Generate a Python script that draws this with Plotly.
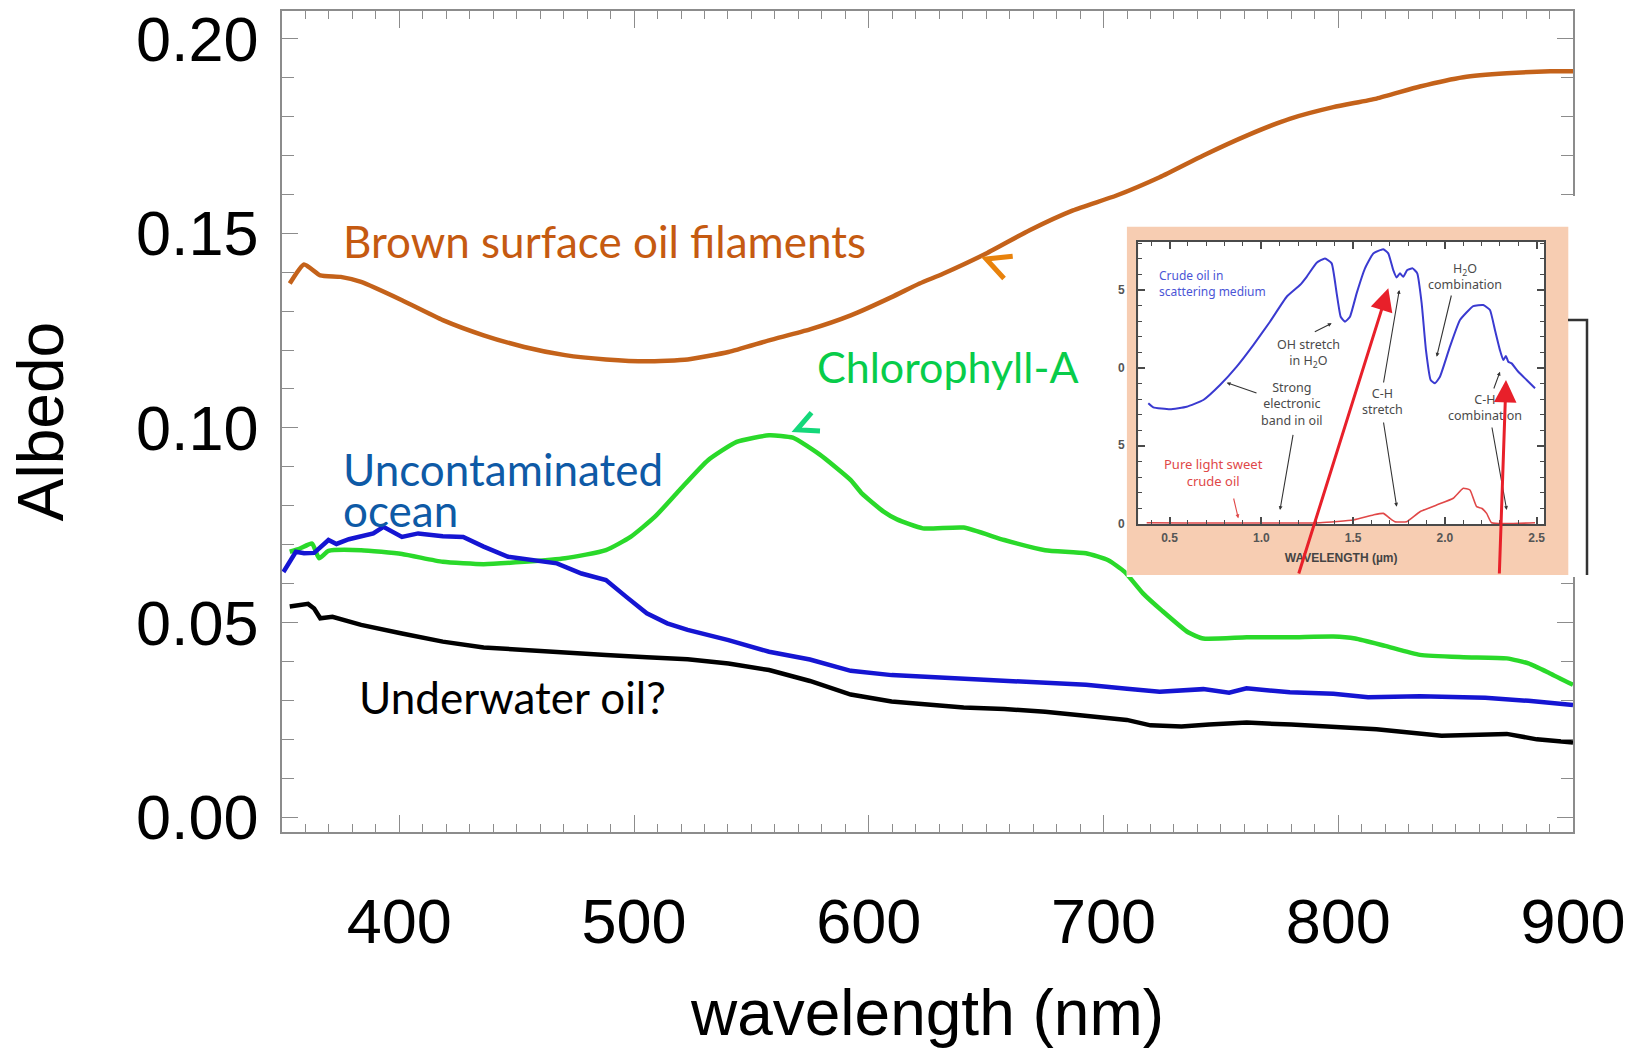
import plotly.graph_objects as go

# ------------------------------------------------------------------ data
brown_wl = [353.3, 359.4, 366.3, 375, 383.7, 401.1, 418.5, 435.9, 453.2, 470.6, 488, 505.4,
            522.8, 540.2, 557.5, 574.9, 592.3, 609.7, 621.6, 631.6, 650, 668.5, 687, 705.5,
            723.9, 742.5, 761, 779.3, 797.9, 816.3, 834.8, 853.3, 871.8, 890.3, 900]
brown_alb = [0.1371, 0.1420, 0.1392, 0.1388, 0.1375, 0.1328, 0.1277, 0.1238, 0.1208, 0.1187,
             0.1176, 0.1171, 0.1176, 0.1195, 0.1225, 0.1253, 0.1289, 0.1336, 0.1371, 0.1396,
             0.1448, 0.1508, 0.1559, 0.1597, 0.1644, 0.1700, 0.1751, 0.1794, 0.1824, 0.1846,
             0.1877, 0.1901, 0.1911, 0.1916, 0.1916]

ocean_wl = [350.6, 355.9, 359.4, 363.7, 369.8, 373.2, 378.5, 383.7, 388.9, 393.2, 401.1, 408,
            418.5, 427.2, 435.9, 446.3, 456.7, 467.1, 477.6, 488, 496.7, 505.4, 514.1, 522.8,
            540.2, 557.5, 574.9, 592.3, 609.7, 623, 640, 657.7, 675, 692.5, 710, 723.9, 742.5,
            753.5, 760.9, 779.4, 797.9, 812.7, 834.8, 862.6, 881, 900]
ocean_alb = [0.0630, 0.0682, 0.0678, 0.0679, 0.0712, 0.0702, 0.0714, 0.0722, 0.0729, 0.0746,
             0.0720, 0.0729, 0.0722, 0.0720, 0.0695, 0.0669, 0.0660, 0.0652, 0.0626, 0.0609,
             0.0566, 0.0524, 0.0498, 0.0481, 0.0455, 0.0425, 0.0405, 0.0376, 0.0365, 0.0361,
             0.0356, 0.0352, 0.0346, 0.0340, 0.0330, 0.0322, 0.0329, 0.0320, 0.0331, 0.0321,
             0.0317, 0.0308, 0.0311, 0.0307, 0.0299, 0.0288]

chl_wl = [353.3, 357.6, 362.8, 365.8, 369.8, 383.7, 401.1, 418.5, 435.9, 453.2, 470.6, 488,
          498.5, 508.9, 519.3, 531.5, 543.7, 557.5, 567.6, 579, 592.3, 597, 606.3, 612, 623,
          640.4, 657.7, 675.1, 692.5, 702, 709, 716.8, 725, 736, 742.5, 761, 779.4, 797.9,
          807.2, 820, 834.8, 853.3, 871.8, 881, 890, 900]
chl_alb = [0.0682, 0.0690, 0.0703, 0.0665, 0.0684, 0.0686, 0.0676, 0.0656, 0.0650, 0.0656,
           0.0665, 0.0686, 0.0720, 0.0772, 0.0840, 0.0917, 0.0964, 0.0981, 0.0975, 0.0932,
           0.0866, 0.0832, 0.0785, 0.0765, 0.0742, 0.0744, 0.0712, 0.0686, 0.0678, 0.0660,
           0.0630, 0.0575, 0.0530, 0.0475, 0.0459, 0.0462, 0.0462, 0.0464, 0.0459, 0.0440,
           0.0417, 0.0411, 0.0408, 0.0395, 0.0370, 0.0340]

uw_wl = [353.3, 361.1, 363.7, 366.3, 371.5, 383.7, 401.1, 418.5, 435.9, 453.2, 470.6, 488,
         505.4, 522.8, 540.2, 557.5, 574.9, 592.3, 609.7, 625, 640.4, 657.7, 675.1, 690, 709.9,
         720, 733.2, 745, 761, 780, 797.9, 816.3, 844, 871.8, 884.6, 900]
uw_alb = [0.0541, 0.0548, 0.0536, 0.0511, 0.0515, 0.0494, 0.0472, 0.0451, 0.0436, 0.0429,
          0.0423, 0.0417, 0.0411, 0.0406, 0.0395, 0.0378, 0.0350, 0.0315, 0.0297, 0.0290,
          0.0282, 0.0278, 0.0271, 0.0262, 0.0250, 0.0236, 0.0233, 0.0238, 0.0243, 0.0238,
          0.0233, 0.0226, 0.0209, 0.0214, 0.0200, 0.0192]

# inset: reflectance spectra (micrometres)
inset_blue_um = [0.3845, 0.4117, 0.5027, 0.5936, 0.684, 0.775, 0.866, 0.9564, 1.0473, 1.1383,
                 1.2107, 1.2472, 1.3017, 1.3469, 1.3834, 1.4106, 1.4324, 1.4558, 1.4831, 1.5194,
                 1.5648, 1.61, 1.6644, 1.6917, 1.7189, 1.7374, 1.7554, 1.7734, 1.7952, 1.8245,
                 1.8496, 1.8736, 1.897, 1.9226, 1.946, 1.9732, 2.0277, 2.0822, 2.1546, 2.2091,
                 2.2456, 2.2728, 2.3, 2.318, 2.3327, 2.3453, 2.3638, 2.4, 2.4455, 2.4911]
inset_blue_r = [0.0774, 0.0748, 0.0735, 0.0752, 0.0795, 0.0891, 0.1009, 0.1147, 0.1297, 0.1457,
                0.1532, 0.1585, 0.1675, 0.1703, 0.1671, 0.1479, 0.1329, 0.1297, 0.1329, 0.1479,
                0.1639, 0.1735, 0.1761, 0.1735, 0.1628, 0.1581, 0.1607, 0.1585, 0.1628, 0.1639,
                0.1607, 0.1415, 0.1115, 0.0923, 0.0902, 0.0944, 0.1137, 0.1308, 0.1397, 0.1404,
                0.1372, 0.1244, 0.1115, 0.1051, 0.1077, 0.1040, 0.1030, 0.0976, 0.0923, 0.0870]
inset_red_um = [0.3757, 1.3197, 1.501, 1.61, 1.6644, 1.7009, 1.7281, 1.7918, 1.8643, 1.9552,
                2.0457, 2.1002, 2.1366, 2.1731, 2.2004, 2.2276, 2.2548, 2.4911]
inset_red_r = [0.0008, 0.0008, 0.0026, 0.0058, 0.0068, 0.0036, 0.0015, 0.0015, 0.0079, 0.0122,
               0.0165, 0.0229, 0.0218, 0.0111, 0.0101, 0.0068, 0.0008, 0.0008]

x_ticks = [400, 500, 600, 700, 800, 900]
y_ticks = [0.00, 0.05, 0.10, 0.15, 0.20]
inset_x_ticks = [0.5, 1.0, 1.5, 2.0, 2.5]
inset_y_ticks = [0.0, 0.05, 0.10, 0.15]
inset_y_ticktext = ["0", "5", "0", "5"]   # only the last digit survives at the cropped edge

# ------------------------------------------------------------------ geometry
W, H = 1645, 1056
ML, MR, MT, MB = 282, 40, 11, 224
PW = W - ML - MR
PH = H - MT - MB


def pxx(px):
    return (px - ML) / PW


def pxy(py):
    return (H - MB - py) / PH


BROWN = "#c4621a"
BLUE = "#1515d2"
GREEN = "#2ad92a"
AXC = "#8c8c8c"
TICKFONT = dict(family="Liberation Sans, Arial, sans-serif", size=63, color="black")
LABFONT = "Lato, Carlito, Calibri, sans-serif"
INSET_TXT = "#4a4a4a"
INSET_FONT = "Noto Sans, Open Sans, sans-serif"

fig = go.Figure()

fig.add_trace(go.Scatter(x=brown_wl, y=brown_alb, mode="lines",
                         line=dict(color=BROWN, width=4.5, shape="spline", smoothing=0.5),
                         name="Brown surface oil filaments"))
fig.add_trace(go.Scatter(x=chl_wl, y=chl_alb, mode="lines",
                         line=dict(color=GREEN, width=4.5, shape="spline", smoothing=0.5),
                         name="Chlorophyll-A"))
fig.add_trace(go.Scatter(x=ocean_wl, y=ocean_alb, mode="lines",
                         line=dict(color=BLUE, width=4.5),
                         name="Uncontaminated ocean"))
fig.add_trace(go.Scatter(x=uw_wl, y=uw_alb, mode="lines",
                         line=dict(color="black", width=4.5),
                         name="Underwater oil?"))

# inset spectra
fig.add_trace(go.Scatter(x=inset_blue_um, y=inset_blue_r, mode="lines", xaxis="x3", yaxis="y3",
                         line=dict(color="#3a3ad0", width=2, shape="spline", smoothing=0.4),
                         name="Crude oil in scattering medium"))
fig.add_trace(go.Scatter(x=inset_red_um, y=inset_red_r, mode="lines", xaxis="x3", yaxis="y3",
                         line=dict(color="#e04848", width=1.6, shape="spline", smoothing=0.4),
                         name="Pure light sweet crude oil"))

main_ax = dict(showline=True, linecolor=AXC, linewidth=1.5, mirror="ticks", ticks="inside",
               tickcolor=AXC, tickwidth=1.2, showgrid=False, zeroline=False, tickfont=TICKFONT)

fig.update_layout(
    width=W, height=H, margin=dict(l=ML, r=MR, t=MT, b=MB, autoexpand=False),
    paper_bgcolor="white", plot_bgcolor="white", showlegend=False,
    xaxis=dict(main_ax, domain=[0, pxx(1573)], range=[350, 900], tickvals=x_ticks, ticklen=17,
               minor=dict(dtick=10, ticklen=8, ticks="inside", tickcolor=AXC, tickwidth=1),
               ticklabelstandoff=34,
               title=dict(text="wavelength (nm)", standoff=35,
                          font=dict(family="Liberation Sans, Arial, sans-serif", size=64, color="black"))),
    yaxis=dict(main_ax, domain=[0, 1], range=[-0.0038, 0.2071], tickvals=y_ticks, tickformat=".2f",
               ticklen=16, ticklabelstandoff=9,
               minor=dict(dtick=0.01, ticklen=12, ticks="inside", tickcolor=AXC, tickwidth=1),
               title=dict(text="Albedo", standoff=52,
                          font=dict(family="Liberation Sans, Arial, sans-serif", size=64, color="black"))),
    # cover layer for the pasted inset (pixel units)
    xaxis2=dict(domain=[pxx(1126.7), pxx(1600)], range=[1126.7, 1600], visible=False,
                anchor="y2", fixedrange=True),
    yaxis2=dict(domain=[pxy(577), pxy(196)], range=[577, 196], visible=False,
                anchor="x2", fixedrange=True),
    # inset axes
    xaxis3=dict(domain=[pxx(1138.3), pxx(1544)], range=[0.33, 2.54], anchor="y3",
                showline=True, linecolor="#4a4a4a", linewidth=2, mirror="ticks", ticks="inside",
                ticklen=7, tickcolor="#4a4a4a", tickwidth=1.5, tickvals=inset_x_ticks,
                tickformat=".1f", showgrid=False, zeroline=False, ticklabelstandoff=2,
                minor=dict(dtick=0.1, ticklen=4, ticks="inside", tickcolor="#4a4a4a", tickwidth=1.2),
                tickfont=dict(family="Liberation Sans, Arial", size=12, color="#555555", weight="bold"),
                title=dict(text="WAVELENGTH (µm)", standoff=9,
                           font=dict(family="Liberation Sans, Arial", size=12, color="#444444",
                                     weight="bold"))),
    yaxis3=dict(domain=[pxy(524), pxy(241.7)], range=[0, 0.181], anchor="x3",
                showline=True, linecolor="#4a4a4a", linewidth=2, mirror="ticks", ticks="inside",
                ticklen=7, tickcolor="#4a4a4a", tickwidth=1.5, tickvals=inset_y_ticks,
                showticklabels=False, showgrid=False, zeroline=False,
                minor=dict(dtick=0.01, ticklen=4, ticks="inside", tickcolor="#4a4a4a", tickwidth=1.2)),
)

shapes = [
    # white cut-out and peach background of the pasted inset
    dict(type="rect", xref="x2", yref="y2", x0=1126.7, x1=1600, y0=196, y1=577,
         fillcolor="white", line=dict(width=0), layer="below"),
    dict(type="rect", xref="x2", yref="y2", x0=1126.7, x1=1568.3, y0=226.7, y1=575,
         fillcolor="#f7cdb2", line=dict(width=0), layer="below"),
    dict(type="rect", xref="x2", yref="y2", x0=1138.3, x1=1544, y0=241.7, y1=524,
         fillcolor="#fcebe0", line=dict(width=0), layer="below"),
    # bracket at right of the inset
    dict(type="path", xref="paper", yref="paper",
         path=f"M {pxx(1568)},{pxy(320)} L {pxx(1587)},{pxy(320)} L {pxx(1587)},{pxy(575)}",
         line=dict(color="#333333", width=2.5), layer="above"),
    # little arrowheads pointing at curves
    dict(type="path", xref="x", yref="y",
         path="M 661.3,0.1441 L 650.0,0.1434 L 657.6,0.1384",
         line=dict(color="#e8820c", width=5), layer="above"),
    dict(type="path", xref="x", yref="y",
         path="M 575.6,0.1039 L 569.3,0.0995 L 579.2,0.0992",
         line=dict(color="#14d87a", width=5), layer="above"),
]
fig.update_layout(shapes=shapes)

ann = []
# main labels
ann.append(dict(x=375.3, y=0.1480, xref="x", yref="y", text="Brown surface oil filaments",
                showarrow=False, xanchor="left", yanchor="middle",
                font=dict(family=LABFONT, size=44, color="#c55a11")))
ann.append(dict(x=576.9, y=0.1158, xref="x", yref="y", text="Chlorophyll-A",
                showarrow=False, xanchor="left", yanchor="middle",
                font=dict(family=LABFONT, size=43, color="#08cc4a")))
ann.append(dict(x=375.0, y=0.0894, xref="x", yref="y", text="Uncontaminated",
                showarrow=False, xanchor="left", yanchor="middle",
                font=dict(family=LABFONT, size=44, color="#0e5aa6")))
ann.append(dict(x=375.0, y=0.0789, xref="x", yref="y", text="ocean",
                showarrow=False, xanchor="left", yanchor="middle",
                font=dict(family=LABFONT, size=44, color="#0e5aa6")))
ann.append(dict(x=382.0, y=0.0309, xref="x", yref="y", text="Underwater oil?",
                showarrow=False, xanchor="left", yanchor="middle",
                font=dict(family=LABFONT, size=44, color="black")))


def itext(cx, cy, txt, color=INSET_TXT, size=12.5, bg=None, anchor="center", fam=INSET_FONT,
          weight="normal"):
    d = dict(x=pxx(cx), y=pxy(cy), xref="paper", yref="paper", text=txt, showarrow=False,
             xanchor=anchor, yanchor="middle",
             align="left" if anchor == "left" else ("right" if anchor == "right" else "center"),
             font=dict(family=fam, size=size, color=color, weight=weight))
    if bg:
        d.update(bgcolor=bg, borderpad=3)
    return d


def iarrow(hx, hy, tx, ty, color="#333333", width=1.1, size=0.7, head=2):
    return dict(x=pxx(hx), y=pxy(hy), xref="paper", yref="paper", text="", showarrow=True,
                axref="pixel", ayref="pixel", ax=tx - hx, ay=ty - hy, arrowhead=head,
                arrowsize=size, arrowwidth=width, arrowcolor=color, standoff=0, startstandoff=0)


# cropped y-tick digits of the pasted inset, at its left edge
inset_ylab_py = [524, 445, 368, 290]
for lab, py in zip(inset_y_ticktext, inset_ylab_py):
    ann.append(itext(1127, py, lab, color="#555555", size=12, anchor="right",
                     fam="Liberation Sans, Arial", weight="bold"))

ann.append(itext(1155, 283, "Crude oil in<br>scattering medium", color="#4b55d6", size=12,
                 bg="white", anchor="left"))
ann.append(itext(1308.3, 353, "OH stretch<br>in H<sub>2</sub>O"))
ann.append(itext(1291.7, 404.3, "Strong<br>electronic<br>band in oil"))
ann.append(itext(1382.7, 401.7, "C-H<br>stretch"))
ann.append(itext(1465, 276.7, "H<sub>2</sub>O<br>combination"))
ann.append(itext(1485, 407.5, "C-H<br>combination"))
ann.append(itext(1213.3, 472.3, "Pure light sweet<br>crude oil", color="#e04848", size=13))

ann.append(iarrow(1331.7, 323.3, 1313.3, 332.5))
ann.append(iarrow(1226.7, 382.7, 1258, 393.5))
ann.append(iarrow(1280, 510, 1293.3, 433.3))
ann.append(iarrow(1238.3, 518.3, 1233.3, 497, color="#e04848"))
ann.append(iarrow(1399.3, 290, 1383.3, 384))
ann.append(iarrow(1396.7, 506.7, 1383.3, 421))
ann.append(iarrow(1436.7, 356.7, 1451.7, 294))
ann.append(iarrow(1500, 371.7, 1493.3, 390))
ann.append(iarrow(1506.7, 510, 1491.7, 426))

# big red arrows drawn over the inset
ann.append(iarrow(1388.3, 288.3, 1298.3, 575, color="#e8202a", width=3, size=1.5, head=2))
ann.append(iarrow(1506, 380, 1499.3, 575, color="#e8202a", width=3, size=1.5, head=2))

fig.update_layout(annotations=ann)

fig.write_html("out.html", include_plotlyjs=True, config=dict(displayModeBar=False))
